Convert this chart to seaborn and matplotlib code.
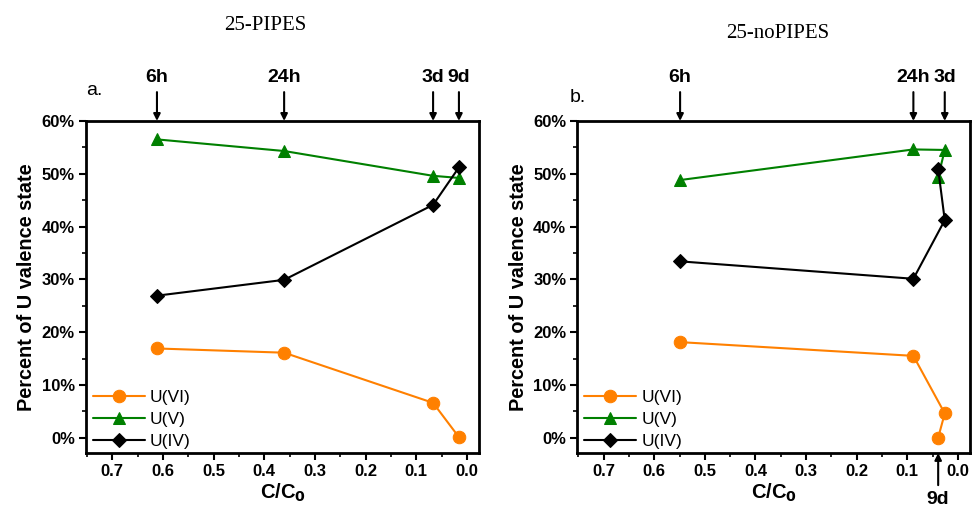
import matplotlib
matplotlib.use("Agg")
import matplotlib.pyplot as plt
import seaborn as sns
import pandas as pd
from matplotlib.ticker import PercentFormatter, MultipleLocator

sns.set_theme(style="ticks")
plt.rcParams['font.family'] = ['Liberation Sans', 'DejaVu Sans']
plt.rcParams['text.color'] = 'black'
plt.rcParams['axes.labelcolor'] = 'black'
plt.rcParams['xtick.color'] = 'black'
plt.rcParams['ytick.color'] = 'black'
plt.rcParams['axes.edgecolor'] = 'black'

series_names = ["U(VI)", "U(V)", "U(IV)"]
time_labels = ["6h", "24h", "3d", "9d"]

# Panel a: 25-PIPES
x_a = [0.612, 0.361, 0.067, 0.016]
u6_a = [16.9, 16.1, 6.6, 0.1]
u5_a = [56.5, 54.3, 49.6, 49.2]
u4_a = [26.9, 29.9, 44.1, 51.2]

# Panel b: 25-noPIPES
x_b = [0.549, 0.088, 0.026, 0.039]
u6_b = [18.1, 15.5, 4.6, 0.0]
u5_b = [48.8, 54.6, 54.5, 49.4]
u4_b = [33.4, 30.1, 41.2, 50.9]

colors = {"U(VI)": "#FF8000", "U(V)": "#008000", "U(IV)": "#000000"}
markers = {"U(VI)": "o", "U(V)": "^", "U(IV)": "D"}
msizes = {"U(VI)": 9, "U(V)": 9, "U(IV)": 7}


def make_df(x, u6, u5, u4):
    rows = []
    for name, vals in zip(series_names, [u6, u5, u4]):
        for i, (xx, v) in enumerate(zip(x, vals)):
            rows.append({"x": xx, "y": v / 100.0, "series": name, "order": i})
    return pd.DataFrame(rows)


fig = plt.figure(figsize=(9.72, 5.07), dpi=100)
ax_a = fig.add_axes([0.0885, 0.1065, 0.4045, 0.655])
ax_b = fig.add_axes([0.594, 0.1065, 0.404, 0.655])

panels = [(ax_a, make_df(x_a, u6_a, u5_a, u4_a), x_a, "a.", "25-PIPES"),
          (ax_b, make_df(x_b, u6_b, u5_b, u4_b), x_b, "b.", "25-noPIPES")]

for idx, (ax, df, xs, letter, title) in enumerate(panels):
    for name in series_names:
        sub = df[df.series == name]
        sns.lineplot(data=sub, x="x", y="y", ax=ax, sort=False, estimator=None,
                     color=colors[name], marker=markers[name], markersize=msizes[name],
                     markeredgecolor=colors[name], linewidth=1.5, label=name)
    ax.set_xlim(0.752, -0.024)
    ax.set_ylim(-0.029, 0.60)
    ax.xaxis.set_major_locator(MultipleLocator(0.1))
    ax.xaxis.set_minor_locator(MultipleLocator(0.05))
    ax.yaxis.set_major_locator(MultipleLocator(0.1))
    ax.yaxis.set_minor_locator(MultipleLocator(0.05))
    ax.yaxis.set_major_formatter(PercentFormatter(1.0, decimals=0))
    ax.xaxis.set_major_formatter(plt.FuncFormatter(lambda v, p: f"{abs(v):.1f}"))
    for sp in ax.spines.values():
        sp.set_linewidth(2.0)
        sp.set_color("black")
    ax.tick_params(axis="both", which="major", direction="out", length=5, width=1.5,
                   labelsize=12, pad=3, top=False, right=False, colors="black")
    ax.tick_params(axis="both", which="minor", direction="out", length=3, width=1.2,
                   top=False, right=False, colors="black")
    for lab in ax.get_xticklabels() + ax.get_yticklabels():
        lab.set_fontweight("bold")
    ax.set_xlabel(r"C/C$_\mathbf{0}$", fontsize=14.5, fontweight="bold", labelpad=2,
                  color="black")
    ax.set_ylabel("Percent of U valence state", fontsize=14.3, fontweight="bold",
                  labelpad=4, color="black")
    leg = ax.legend(loc="lower left", frameon=False, fontsize=12.5, handlelength=3.0,
                    handletextpad=0.3, labelspacing=0.4, borderaxespad=0.2,
                    bbox_to_anchor=(-0.01, -0.02), labelcolor="black")
    if idx == 0:
        ax.text(0.0, 1.065, letter, transform=ax.transAxes, fontsize=14,
                ha="left", va="bottom", color="black")
    else:
        ax.text(-0.02, 1.045, letter, transform=ax.transAxes, fontsize=14,
                ha="left", va="bottom", color="black")
    ax.grid(False)

arrow_kw = dict(arrowstyle="-|>", color="black", lw=1.5, shrinkA=2, shrinkB=0,
                mutation_scale=10)
# arrows for time points
for lab, xv in zip(time_labels, x_a):
    ax_a.annotate(lab, xy=(xv, 1.0), xycoords=("data", "axes fraction"),
                  xytext=(xv, 1.105), textcoords=("data", "axes fraction"),
                  ha="center", va="bottom", fontsize=14, fontweight="bold",
                  color="black", arrowprops=arrow_kw)
for lab, xv in zip(time_labels[:3], x_b[:3]):
    ax_b.annotate(lab, xy=(xv, 1.0), xycoords=("data", "axes fraction"),
                  xytext=(xv, 1.105), textcoords=("data", "axes fraction"),
                  ha="center", va="bottom", fontsize=14, fontweight="bold",
                  color="black", arrowprops=arrow_kw)
ax_b.annotate(time_labels[3], xy=(x_b[3], 0.0), xycoords=("data", "axes fraction"),
              xytext=(x_b[3], -0.115), textcoords=("data", "axes fraction"),
              ha="center", va="top", fontsize=14, fontweight="bold",
              color="black", arrowprops=arrow_kw)

fig.text(265 / 972, 1 - 25 / 507, "25-PIPES", fontsize=15, ha="center", va="center",
         family=["Liberation Serif", "DejaVu Serif"], color="black")
fig.text(778 / 972, 1 - 33 / 507, "25-noPIPES", fontsize=15, ha="center", va="center",
         family=["Liberation Serif", "DejaVu Serif"], color="black")

fig.savefig("out.png", dpi=100)
